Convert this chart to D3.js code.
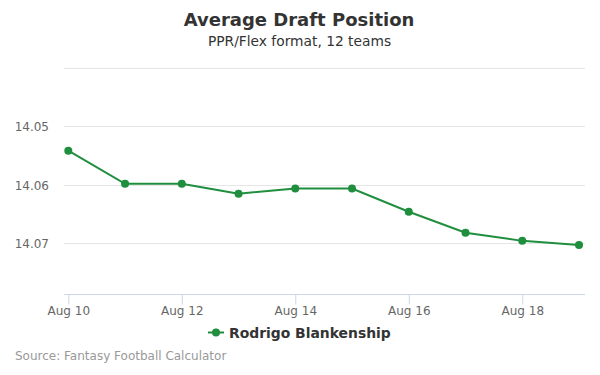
<!DOCTYPE html>
<html><head><meta charset="utf-8">
<script src="https://cdn.jsdelivr.net/npm/d3@7"></script>
<style>body{margin:0;background:#fff;font-family:"DejaVu Sans",sans-serif;}</style>
</head><body><svg id="c" width="600" height="375"></svg>
<script>
const dates = ["2023-08-10","2023-08-11","2023-08-12","2023-08-13","2023-08-14","2023-08-15","2023-08-16","2023-08-17","2023-08-18","2023-08-19"];
const adp = [14.0541, 14.0598, 14.0598, 14.0615, 14.0606, 14.0606, 14.0646, 14.0682, 14.0696, 14.0703];
const yTicks = [14.04, 14.05, 14.06, 14.07];
const xTickDays = ["2023-08-10","2023-08-12","2023-08-14","2023-08-16","2023-08-18"];
const seriesName = "Rodrigo Blankenship";
const color = "#1f8e3d";

const svg = d3.select("#c");
const parse = d3.utcParse("%Y-%m-%d");
const L = 64, R = 585, B = 294.3;
const x = d3.scaleUtc().domain([parse("2023-08-10"), parse("2023-08-19")]).range([68.3, 579]);
const y = d3.scaleLinear().domain([14.04, 14.07]).range([68.6, 243.2]);

svg.append("text").attr("x",299).attr("y",26).attr("text-anchor","middle")
  .attr("font-size",18).attr("font-weight","bold").attr("fill","#333").text("Average Draft Position");
svg.append("text").attr("x",299.5).attr("y",46).attr("text-anchor","middle")
  .attr("font-size",13.8).attr("fill","#333").text("PPR/Flex format, 12 teams");

// grid
svg.append("g").selectAll("line").data(yTicks).join("line")
  .attr("x1",L).attr("x2",R).attr("y1",d=>Math.floor(y(d))+0.5).attr("y2",d=>Math.floor(y(d))+0.5)
  .attr("stroke","#e6e6e6");
svg.append("g").selectAll("text").data(yTicks.filter(d=>d>14.045)).join("text")
  .attr("x",49).attr("y",d=>y(d)+4.5).attr("text-anchor","end")
  .attr("font-size",12).attr("fill","#666").text(d=>d.toFixed(2));

// x axis
const xa = svg.append("g").attr("transform",`translate(0,${Math.round(B)+0.5})`)
  .call(d3.axisBottom(x).tickValues(xTickDays.map(parse)).tickSize(10).tickSizeOuter(0).tickFormat(d3.utcFormat("Aug %-d")));
xa.select(".domain").remove();
xa.append("line").attr("x1",L).attr("x2",R).attr("stroke","#ccd6eb");
xa.selectAll(".tick line").attr("stroke","#ccd6eb").attr("y2",10);
xa.selectAll(".tick text").attr("font-size",12).attr("fill","#666").attr("font-family","DejaVu Sans").attr("dy","0.35em").attr("y",16);

const data = dates.map((d,i)=>({d:parse(d), v:adp[i]}));
svg.append("path").datum(data)
  .attr("d", d3.line().x(d=>x(d.d)).y(d=>y(d.v)))
  .attr("fill","none").attr("stroke",color).attr("stroke-width",2);
svg.append("g").selectAll("circle").data(data).join("circle")
  .attr("cx",d=>x(d.d)).attr("cy",d=>y(d.v)).attr("r",4).attr("fill",color);

// legend
const lg = svg.append("g");
lg.append("line").attr("x1",208).attr("x2",224).attr("y1",332.5).attr("y2",332.5).attr("stroke",color).attr("stroke-width",2);
lg.append("circle").attr("cx",216).attr("cy",332.5).attr("r",4).attr("fill",color);
lg.append("text").attr("x",229).attr("y",337.5).attr("font-size",13.9).attr("font-weight","bold").attr("fill","#333").text(seriesName);

svg.append("text").attr("x",15).attr("y",360).attr("font-size",12).attr("fill","#999").text("Source: Fantasy Football Calculator");
</script></body></html>
